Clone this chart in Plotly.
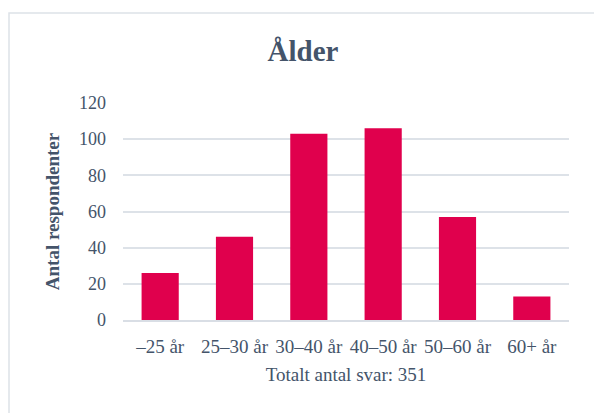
import plotly.graph_objects as go

categories = ["–25 år", "25–30 år", "30–40 år", "40–50 år", "50–60 år", "60+ år"]
values = [26, 46, 103, 106, 57, 13]
title_text = "Ålder"
y_title = "Antal respondenter"
x_title = "Totalt antal svar: 351"
y_ticks = [0, 20, 40, 60, 80, 100, 120]

W, H = 594, 413
L, R, T, B = 123, 25, 103, 93
pw, ph = W - L - R, H - T - B

TEXT = "#44546A"
FONT = "Liberation Serif, Times New Roman, serif"

fig = go.Figure(go.Bar(x=categories, y=values, marker_color="#E0004D",
                       marker_line_width=0))

def px_x(p):
    return (p - L) / pw

def px_y(p):
    return (H - B - p) / ph

fig.update_layout(
    width=W, height=H,
    margin=dict(l=L, r=R, t=T, b=B),
    paper_bgcolor="white", plot_bgcolor="white",
    bargap=0.5,
    showlegend=False,
    font=dict(family=FONT, color=TEXT),
    title=dict(text="<b>" + title_text + "</b>", x=303 / W, xanchor="center",
               y=1 - 51 / H, yanchor="middle",
               font=dict(size=29, family=FONT, color=TEXT)),
    shapes=[dict(type="rect", xref="paper", yref="paper",
                 x0=px_x(9), x1=px_x(W + 20), y0=px_y(H + 20), y1=px_y(13),
                 line=dict(color="#DDE2E8", width=1.5), layer="below")],
)
fig.update_xaxes(showgrid=False, showline=True, linecolor="#D9DEE5", linewidth=1.5,
                 ticks="", ticklabelstandoff=8, tickfont=dict(size=19, color=TEXT),
                 title=dict(text=x_title, font=dict(size=19, color=TEXT), standoff=12))
fig.update_yaxes(range=[0, 120], tickvals=y_ticks, showgrid=True, gridcolor="#DDE2E8",
                 gridwidth=1.5, zeroline=False, showline=False, ticks="",
                 ticklabelstandoff=16,
                 tickfont=dict(size=18, color=TEXT),
                 title=dict(text="<b>" + y_title + "</b>", font=dict(size=19, color=TEXT),
                            standoff=14))

fig.write_html("out.html")
